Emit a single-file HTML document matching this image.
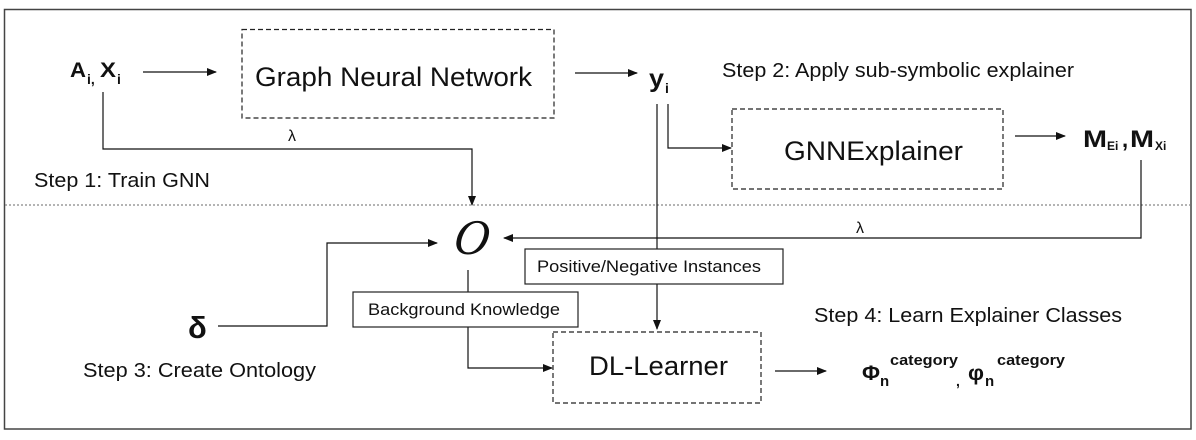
<!DOCTYPE html>
<html><head><meta charset="utf-8"><style>
html,body{margin:0;padding:0;background:#fff;}
svg{display:block;}
text{font-family:"Liberation Sans",Arial,sans-serif;fill:#111;}
</style></head><body>
<svg width="1196" height="440" viewBox="0 0 1196 440" xmlns="http://www.w3.org/2000/svg">
<defs>
<marker id="ah" markerWidth="10" markerHeight="8" refX="9" refY="4" orient="auto" markerUnits="userSpaceOnUse">
<path d="M0,0 L10,4 L0,8 z" fill="#111"/>
</marker>
</defs>
<rect x="4.5" y="9.5" width="1186.5" height="419.5" fill="none" stroke="#444" stroke-width="1.5"/>
<line x1="5" y1="205" x2="1190" y2="205" stroke="#888" stroke-width="1.2" stroke-dasharray="2,2"/>

<g stroke="#111" stroke-width="1.2" fill="none">
<line x1="143" y1="72" x2="216" y2="72" marker-end="url(#ah)"/>
<line x1="575" y1="73" x2="637" y2="73" marker-end="url(#ah)"/>
<polyline points="103,92 103,149 472,149 472,205" marker-end="url(#ah)"/>
<line x1="657" y1="104" x2="657" y2="329" marker-end="url(#ah)"/>
<polyline points="668,104 668,148 731,148" marker-end="url(#ah)"/>
<line x1="1015" y1="136" x2="1065" y2="136" marker-end="url(#ah)"/>
<polyline points="1141,160 1141,238 504,238" marker-end="url(#ah)"/>
<polyline points="218,326 327,326 327,243 437,243" marker-end="url(#ah)"/>
<polyline points="468,270 468,368 552,368" marker-end="url(#ah)"/>
<line x1="775" y1="371" x2="826" y2="371" marker-end="url(#ah)"/>
</g>

<g fill="#fff" stroke="#222" stroke-width="1.2" stroke-dasharray="5,3">
<rect x="242" y="29.5" width="312" height="88.5"/>
<rect x="732" y="109" width="271" height="80"/>
<rect x="553" y="332" width="208" height="71"/>
</g>
<g fill="#fff" stroke="#222" stroke-width="1.2">
<rect x="525" y="249" width="258" height="35"/>
<rect x="353" y="292" width="225" height="35"/>
</g>

<text x="255" y="86" font-size="27" textLength="277" lengthAdjust="spacingAndGlyphs">Graph Neural Network</text>
<text x="784" y="160" font-size="27" textLength="179" lengthAdjust="spacingAndGlyphs">GNNExplainer</text>
<text x="589" y="375" font-size="27" textLength="139" lengthAdjust="spacingAndGlyphs">DL-Learner</text>

<text x="722" y="77" font-size="20" textLength="352" lengthAdjust="spacingAndGlyphs">Step 2: Apply sub-symbolic explainer</text>
<text x="34" y="187" font-size="20" textLength="176" lengthAdjust="spacingAndGlyphs">Step 1: Train GNN</text>
<text x="83" y="377" font-size="20" textLength="233" lengthAdjust="spacingAndGlyphs">Step 3: Create Ontology</text>
<text x="814" y="322" font-size="20" textLength="308" lengthAdjust="spacingAndGlyphs">Step 4: Learn Explainer Classes</text>

<text x="537" y="272" font-size="17" textLength="224" lengthAdjust="spacingAndGlyphs">Positive/Negative Instances</text>
<text x="368" y="315" font-size="17" textLength="192" lengthAdjust="spacingAndGlyphs">Background Knowledge</text>

<text x="288" y="141" font-size="16">λ</text>
<text x="856" y="233" font-size="16">λ</text>

<text x="70" y="77" font-size="21" font-weight="bold" textLength="16" lengthAdjust="spacingAndGlyphs">A</text>
<text x="87" y="84" font-size="14" font-weight="bold">i,</text>
<text x="100" y="77" font-size="21" font-weight="bold" textLength="16" lengthAdjust="spacingAndGlyphs">X</text>
<text x="117" y="84" font-size="14" font-weight="bold">i</text>

<text x="649" y="87" font-size="25" font-weight="bold" textLength="15" lengthAdjust="spacingAndGlyphs">y</text>
<text x="665" y="93" font-size="14" font-weight="bold">i</text>

<text x="1083" y="147" font-size="24" font-weight="bold" textLength="24" lengthAdjust="spacingAndGlyphs">M</text>
<text x="1107" y="150" font-size="12" font-weight="bold">Ei</text>
<text x="1122" y="147" font-size="22" font-weight="bold">,</text>
<text x="1130" y="147" font-size="24" font-weight="bold" textLength="24" lengthAdjust="spacingAndGlyphs">M</text>
<text x="1155" y="150" font-size="12" font-weight="bold">Xi</text>

<text x="453" y="254" font-size="50" font-style="italic" textLength="35" lengthAdjust="spacingAndGlyphs" style="font-family:'Liberation Serif',serif" transform="skewX(-8) translate(35,0)">O</text>

<text x="188" y="338" font-size="31" font-weight="bold">δ</text>

<text x="862" y="380" font-size="21" font-weight="bold" textLength="18" lengthAdjust="spacingAndGlyphs">Φ</text>
<text x="880" y="386" font-size="15" font-weight="bold">n</text>
<text x="890" y="365" font-size="15" font-weight="bold" textLength="68" lengthAdjust="spacingAndGlyphs">category</text>
<text x="956" y="386" font-size="14" font-weight="bold">,</text>
<text x="968" y="380" font-size="21" font-weight="bold" textLength="16" lengthAdjust="spacingAndGlyphs">φ</text>
<text x="985" y="386" font-size="15" font-weight="bold">n</text>
<text x="997" y="365" font-size="15" font-weight="bold" textLength="68" lengthAdjust="spacingAndGlyphs">category</text>
</svg>
</body></html>
